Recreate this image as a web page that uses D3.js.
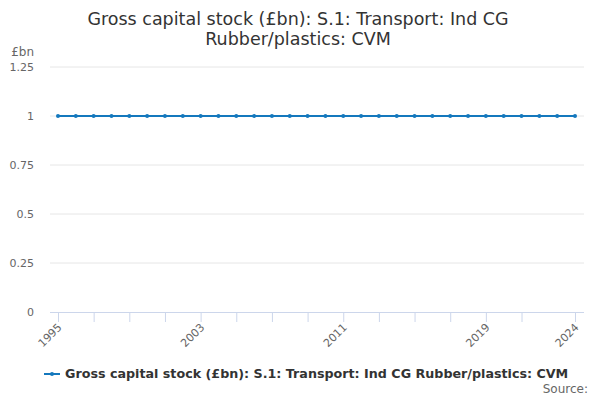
<!DOCTYPE html>
<html>
<head>
<meta charset="utf-8">
<script src="https://cdn.jsdelivr.net/npm/d3@7"></script>
<style>
  body { margin: 0; background: #fff; }
  svg { font-family: "DejaVu Sans", sans-serif; }
</style>
</head>
<body>
<div id="chart"></div>
<script>
// --- Data ---
const titleLines = ["Gross capital stock (£bn): S.1: Transport: Ind CG", "Rubber/plastics: CVM"];
const seriesName = "Gross capital stock (£bn): S.1: Transport: Ind CG Rubber/plastics: CVM";
const years = d3.range(1995, 2025);
const values = [1,1,1,1,1,1,1,1,1,1,1,1,1,1,1,1,1,1,1,1,1,1,1,1,1,1,1,1,1,1];
const yTicks = [0, 0.25, 0.5, 0.75, 1, 1.25];
const xTicks = [1995,1997,1999,2001,2003,2005,2007,2009,2011,2013,2015,2017,2019,2021,2024];
const xLabels = [1995, 2003, 2011, 2019, 2024];

const width = 600, height = 400;
const lineColor = "#1478bd";

const svg = d3.select("#chart").append("svg")
  .attr("width", width)
  .attr("height", height);

const x = d3.scaleLinear().domain([1995, 2024]).range([58, 575]);
const y = d3.scaleLinear().domain([0, 1.25]).range([312, 67]);

// Title
svg.append("text")
  .attr("text-anchor", "middle")
  .attr("fill", "#333")
  .attr("font-size", 17.5)
  .selectAll("tspan")
  .data(titleLines)
  .enter()
  .append("tspan")
  .attr("x", 298)
  .attr("y", (d, i) => 25 + i * 20)
  .text(d => d);

// Gridlines
svg.append("g")
  .selectAll("line")
  .data(yTicks.filter(d => d > 0))
  .enter()
  .append("line")
  .attr("x1", 50).attr("x2", 584)
  .attr("y1", d => y(d)).attr("y2", d => y(d))
  .attr("stroke", "#e6e6e6")
  .attr("stroke-width", 1);

// Y axis labels
svg.append("g")
  .selectAll("text")
  .data(yTicks)
  .enter()
  .append("text")
  .attr("x", 34)
  .attr("y", d => y(d) + 4)
  .attr("text-anchor", "end")
  .attr("fill", "#666")
  .attr("font-size", 11)
  .text(d => d);

svg.append("text")
  .attr("x", 34)
  .attr("y", 56)
  .attr("text-anchor", "end")
  .attr("fill", "#666")
  .attr("font-size", 12)
  .text("£bn");

// X axis
const xAxis = d3.axisBottom(x)
  .tickValues(xTicks)
  .tickSize(10)
  .tickFormat(d => xLabels.includes(d) ? d : "");
const gx = svg.append("g")
  .attr("transform", `translate(0,${y(0)})`)
  .call(xAxis);
gx.select(".domain").remove();
gx.append("line")
  .attr("x1", 50).attr("x2", 584)
  .attr("y1", 0.5).attr("y2", 0.5)
  .attr("stroke", "#ccd6eb");
gx.selectAll(".tick line").attr("stroke", "#ccd6eb");
gx.selectAll(".tick text")
  .attr("fill", "#666")
  .attr("font-size", 11)
  .attr("font-family", "DejaVu Sans, sans-serif")
  .attr("text-anchor", "end")
  .attr("dy", null)
  .attr("y", 0)
  .attr("transform", "translate(4,16) rotate(-45)");

// Line
const line = d3.line()
  .x((d, i) => x(years[i]))
  .y(d => y(d));
svg.append("path")
  .datum(values)
  .attr("fill", "none")
  .attr("stroke", lineColor)
  .attr("stroke-width", 2)
  .attr("d", line);

svg.append("g")
  .selectAll("circle")
  .data(values)
  .enter()
  .append("circle")
  .attr("cx", (d, i) => x(years[i]))
  .attr("cy", d => y(d))
  .attr("r", 2)
  .attr("fill", lineColor);

// Legend
const lg = svg.append("g");
lg.append("line")
  .attr("x1", 44).attr("x2", 60)
  .attr("y1", 374).attr("y2", 374)
  .attr("stroke", lineColor)
  .attr("stroke-width", 2);
lg.append("circle")
  .attr("cx", 52).attr("cy", 374).attr("r", 2)
  .attr("fill", lineColor);
lg.append("text")
  .attr("x", 65)
  .attr("y", 378)
  .attr("fill", "#333")
  .attr("font-size", 12.7)
  .attr("font-weight", "bold")
  .text(seriesName);

// Source
svg.append("text")
  .attr("x", 588)
  .attr("y", 393)
  .attr("text-anchor", "end")
  .attr("fill", "#666")
  .attr("font-size", 12)
  .text("Source:");
</script>
</body>
</html>
